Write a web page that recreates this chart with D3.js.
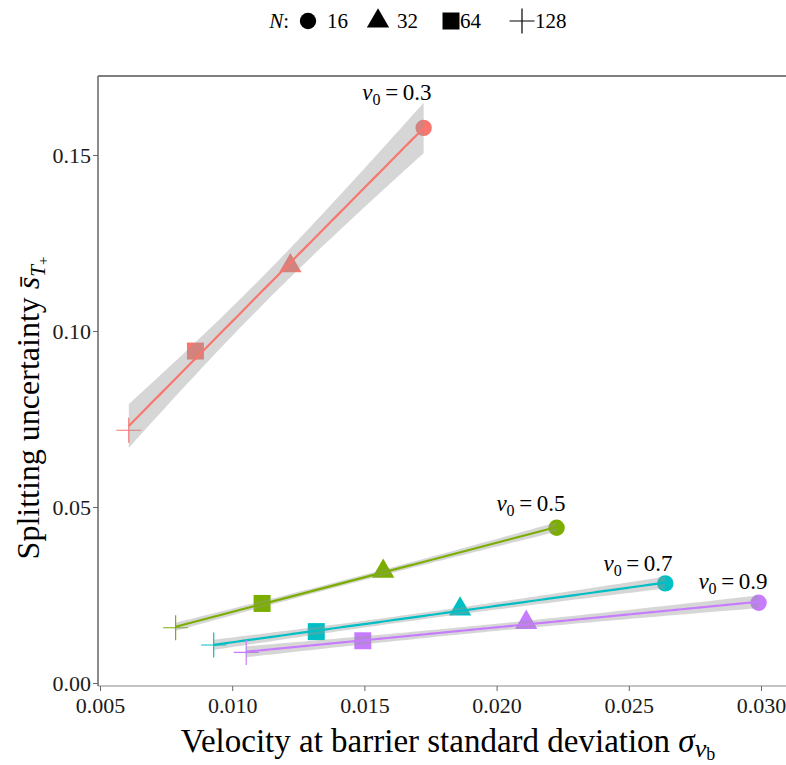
<!DOCTYPE html>
<html>
<head>
<meta charset="utf-8">
<script src="https://cdn.jsdelivr.net/npm/d3@7"></script>
<style>
  body { margin: 0; background: #fff; }
  text { font-family: "Liberation Serif", "DejaVu Serif", serif; }
</style>
</head>
<body>
<div id="container"></div>
<script>
// values
const v0Levels = ["0.3", "0.5", "0.7", "0.9"]
const nLevels = [16, 32, 64, 128]
const colors = ["#F8766D", "#7CAE00", "#00BFC4", "#C77CFF"]

// sigma_vb per v0, order N = 16, 32, 64, 128
const sigmaVb = [
    [0.01724, 0.01220, 0.00861, 0.00609],
    [0.02227, 0.01571, 0.01113, 0.00786],
    [0.02638, 0.01862, 0.01318, 0.00930],
    [0.02991, 0.02112, 0.01494, 0.01053]
]
// splitting uncertainty per v0
const sT = [
    [0.1577, 0.1185, 0.0943, 0.0718],
    [0.0441, 0.0317, 0.0226, 0.0157],
    [0.0283, 0.0210, 0.0146, 0.0108],
    [0.0228, 0.0172, 0.0120, 0.0087]
]
// where the v0 labels sit (data units)
const labelX = [0.01623, 0.0213, 0.02535, 0.02894]
const labelY = [0.1656, 0.0489, 0.0318, 0.0267]

const xTicks = [0.005, 0.010, 0.015, 0.020, 0.025, 0.030]
const yTicks = [0.00, 0.05, 0.10, 0.15]

const width = 786
const height = 765
const panel = { left: 98, right: 786, top: 76, bottom: 686 }

const x = d3.scaleLinear().domain([0.005, 0.030]).range([100, 761])
const y = d3.scaleLinear().domain([0, 0.15]).range([683, 155])

const svg = d3.select("#container").append("svg")
    .attr("width", width)
    .attr("height", height)

// shapes for N
function shapePath(i) {
    if (i === 0) return d3.symbol(d3.symbolCircle, 210)()
    if (i === 1) return d3.symbol(d3.symbolTriangle, 215)()
    if (i === 2) return d3.symbol(d3.symbolSquare, 289)()
    return "M-12.5,0H12.5M0,-12.5V12.5"
}

// linear fit with 95% band, like geom_smooth(method = "lm")
function fit(xs, ys) {
    const n = xs.length
    const mx = d3.mean(xs), my = d3.mean(ys)
    let sxx = 0, sxy = 0
    xs.forEach((v, i) => { sxx += (v - mx) ** 2; sxy += (v - mx) * (ys[i] - my) })
    const b = sxy / sxx
    const a = my - b * mx
    let sse = 0
    xs.forEach((v, i) => { sse += (ys[i] - a - b * v) ** 2 })
    const s = Math.sqrt(sse / (n - 2))
    const t = 4.302653 // qt(0.975, 2)
    const lo = d3.min(xs), hi = d3.max(xs)
    return d3.range(0, 81).map(k => {
        const xv = lo + (hi - lo) * k / 80
        const yv = a + b * xv
        const se = s * Math.sqrt(1 / n + (xv - mx) ** 2 / sxx)
        return { x: xv, y: yv, lo: yv - t * se, hi: yv + t * se }
    })
}

const plot = svg.append("g")

v0Levels.forEach((lev, si) => {
    const g = plot.append("g")
    // points
    g.selectAll("path.pt")
        .data(nLevels.map((nn, i) => ({ i, x: sigmaVb[si][i], y: sT[si][i] })))
        .enter().append("path")
        .attr("class", "pt")
        .attr("transform", d => `translate(${x(d.x)},${y(d.y)})`)
        .attr("d", d => shapePath(d.i))
        .attr("fill", d => d.i === 3 ? "none" : colors[si])
        .attr("stroke", d => d.i === 3 ? colors[si] : "none")
        .attr("stroke-width", 1.2)

    const f = fit(sigmaVb[si], sT[si])
    g.append("path")
        .datum(f)
        .attr("fill", "#999999")
        .attr("fill-opacity", 0.4)
        .attr("d", d3.area().x(d => x(d.x)).y0(d => y(d.lo)).y1(d => y(d.hi)))
    g.append("path")
        .datum(f)
        .attr("fill", "none")
        .attr("stroke", colors[si])
        .attr("stroke-width", 2.2)
        .attr("d", d3.line().x(d => x(d.x)).y(d => y(d.y)))

    const lab = g.append("text")
        .attr("x", x(labelX[si]))
        .attr("y", y(labelY[si]))
        .attr("text-anchor", "middle")
        .attr("font-size", 23)
        .attr("fill", "#000")
    lab.append("tspan").attr("font-style", "italic").text("v")
    lab.append("tspan").attr("font-size", 16).attr("dy", 5).text("0")
    lab.append("tspan").attr("dy", -5).text("\u2009=\u2009" + lev)
})

// panel border
svg.append("line")
    .attr("x1", panel.left).attr("x2", panel.right)
    .attr("y1", panel.top).attr("y2", panel.top)
    .attr("stroke", "#555").attr("stroke-width", 1.5)
svg.append("line")
    .attr("x1", panel.left).attr("x2", panel.left)
    .attr("y1", panel.top).attr("y2", panel.bottom)
    .attr("stroke", "#666").attr("stroke-width", 1.5)
svg.append("line")
    .attr("x1", panel.left).attr("x2", panel.right)
    .attr("y1", panel.bottom).attr("y2", panel.bottom)
    .attr("stroke", "#888").attr("stroke-width", 1.2)

// axes
const xAxis = svg.append("g")
    .attr("transform", `translate(0,${panel.bottom})`)
    .call(d3.axisBottom(x).tickValues(xTicks).tickFormat(d3.format(".3f")).tickSize(5).tickSizeOuter(0))
xAxis.select(".domain").remove()
xAxis.selectAll(".tick line").attr("stroke", "#666")
xAxis.selectAll(".tick text")
    .attr("font-family", "Liberation Serif, serif")
    .attr("font-size", 22)
    .attr("fill", "#1a1a1a")
    .attr("dy", "0.85em")

const yAxis = svg.append("g")
    .attr("transform", `translate(${panel.left},0)`)
    .call(d3.axisLeft(y).tickValues(yTicks).tickFormat(d3.format(".2f")).tickSize(5).tickSizeOuter(0))
yAxis.select(".domain").remove()
yAxis.selectAll(".tick line").attr("stroke", "#666")
yAxis.selectAll(".tick text")
    .attr("font-family", "Liberation Serif, serif")
    .attr("font-size", 22)
    .attr("fill", "#1a1a1a")
    .attr("x", -7)

// axis titles
const xt = svg.append("text")
    .attr("x", (panel.left + panel.right) / 2 + 6)
    .attr("y", 752)
    .attr("text-anchor", "middle")
    .attr("font-size", 33)
xt.append("tspan").text("Velocity at barrier standard deviation ")
xt.append("tspan").attr("font-style", "italic").text("σ")
xt.append("tspan").attr("font-style", "italic").attr("font-size", 26).attr("dy", 5).text("v")
xt.append("tspan").attr("font-size", 18).attr("dy", 3).text("b")

const yt = svg.append("text")
    .attr("transform", "translate(39,408) rotate(-90)")
    .attr("text-anchor", "middle")
    .attr("font-size", 32)
yt.append("tspan").text("Splitting uncertainty ")
yt.append("tspan").attr("font-style", "italic").text("s\u0304")
yt.append("tspan").attr("font-style", "italic").attr("font-size", 21).attr("dy", 6).text("T")
yt.append("tspan").attr("font-size", 15).attr("dy", 3).text("+")

// legend
const legend = svg.append("g")
legend.append("text")
    .attr("x", 289).attr("y", 28)
    .attr("text-anchor", "end")
    .attr("font-size", 21)
    .call(t => {
        t.append("tspan").attr("font-style", "italic").text("N")
        t.append("tspan").text(":")
    })
const legX = [308, 378, 451, 522]
const legTextX = [327, 397, 460, 535]
legend.selectAll("path")
    .data(nLevels)
    .enter().append("path")
    .attr("transform", (d, i) => `translate(${legX[i]},21)`)
    .attr("d", (d, i) => shapePath(i))
    .attr("fill", (d, i) => i === 3 ? "none" : "#000")
    .attr("stroke", (d, i) => i === 3 ? "#000" : "none")
    .attr("stroke-width", 1.2)
legend.selectAll("text.lab")
    .data(nLevels)
    .enter().append("text")
    .attr("class", "lab")
    .attr("x", (d, i) => legTextX[i])
    .attr("y", 28)
    .attr("font-size", 21)
    .text(d => d)
</script>
</body>
</html>
